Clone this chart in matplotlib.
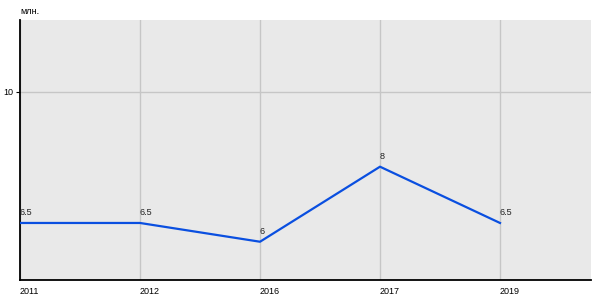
import matplotlib
matplotlib.use("Agg")
import matplotlib.pyplot as plt

plt.rcParams['font.family'] = ['Liberation Sans', 'DejaVu Sans']

years = ['2011', '2012', '2016', '2017', '2019']
values = [6.5, 6.5, 6, 8, 6.5]
labels = ['6.5', '6.5', '6', '8', '6.5']

fig = plt.figure(figsize=(6, 3), dpi=100)
ax = fig.add_axes([20 / 600, 20 / 300, 571 / 600, 260 / 300])
ax.set_facecolor('#e9e9e9')

x = list(range(len(years)))
ax.plot(x, values, color='#0a4fe0', linewidth=1.6, zorder=3)

for xi, v, lab in zip(x, values, labels):
    ax.annotate(lab, (xi, v), xytext=(0, 4), textcoords='offset points',
                ha='left', va='bottom', fontsize=6.5, color='#222222')

ax.set_xlim(0, 571 / 120)
ax.set_ylim(4.98, 11.91)
ax.set_xticks(x)
ax.set_xticklabels(years, ha='left', fontsize=6.5)
ax.set_yticks([10])
ax.set_yticklabels(['10'], fontsize=6.5)
ax.tick_params(axis='x', length=0, pad=5)
ax.tick_params(axis='y', length=3, width=0.8, pad=2)

ax.grid(True, color='#c6c6c6', linewidth=1)
ax.set_axisbelow(True)
for s in ['top', 'right']:
    ax.spines[s].set_visible(False)
for s in ['left', 'bottom']:
    ax.spines[s].set_linewidth(1.3)
    ax.spines[s].set_color('black')

fig.text(20 / 600, 1 - 12 / 300, 'млн.', fontsize=6.5, ha='left', va='center')

fig.savefig('out.png', dpi=100)
